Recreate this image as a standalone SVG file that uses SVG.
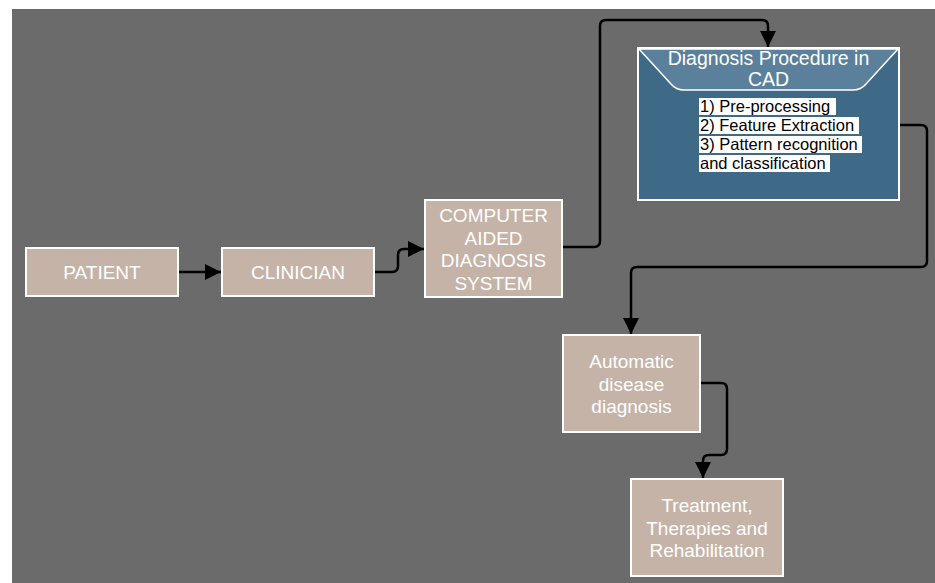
<svg xmlns="http://www.w3.org/2000/svg" width="935" height="583" viewBox="0 0 935 583">
<defs>
<style>
.node rect.box{fill:#c5b3a8;stroke:#ffffff;stroke-width:2}
.lbl{font-family:"Liberation Sans",Arial,sans-serif;font-size:19px;fill:#ffffff;text-anchor:middle}
.hdr{font-family:"Liberation Sans",Arial,sans-serif;font-size:19.5px;fill:#ffffff;text-anchor:middle}
.item{font-family:"Liberation Sans",Arial,sans-serif;font-size:16.5px;fill:#000000}
.hl{fill:#ffffff}
.conn path{fill:none;stroke:#000000;stroke-width:2.5;stroke-linejoin:round}
</style>
<marker id="arr" viewBox="0 0 10 10" refX="10" refY="5" markerWidth="6.5" markerHeight="6.5" orient="auto" markerUnits="strokeWidth">
<path d="M0,0 L10,5 L0,10 Z" fill="#000000"/>
</marker>
</defs>
<rect x="12" y="9" width="923" height="574" fill="#6b6b6b"/>

<g class="conn" id="connectors">
<path d="M178,272 L221,272" marker-end="url(#arr)"/>
<path d="M374,272 L392,272 Q398,272 398,266 L398,255 Q398,249 404,249 L424,249" marker-end="url(#arr)"/>
<path d="M562,247 L594,247 Q600,247 600,241 L600,26 Q600,20 606,20 L762,20 Q768,20 768,26 L768,47" marker-end="url(#arr)"/>
<path d="M899,125 L921,125 Q927,125 927,131 L927,261 Q927,267 921,267 L637,267 Q631,267 631,273 L631,334" marker-end="url(#arr)"/>
<path d="M700,383 L721,383 Q727,383 727,389 L727,449 Q727,455 721,455 L709,455 Q703,455 703,461 L703,478" marker-end="url(#arr)"/>
</g>

<g class="node" id="patient">
<rect class="box" x="26" y="248" width="152" height="48"/>
<text class="lbl" x="102" y="279">PATIENT</text>
</g>

<g class="node" id="clinician">
<rect class="box" x="222" y="248" width="152" height="48"/>
<text class="lbl" x="298" y="279">CLINICIAN</text>
</g>

<g class="node" id="cad-system">
<rect class="box" x="425" y="200" width="137" height="97"/>
<text class="lbl" x="493.5" y="222">COMPUTER</text>
<text class="lbl" x="493.5" y="244.5">AIDED</text>
<text class="lbl" x="493.5" y="267">DIAGNOSIS</text>
<text class="lbl" x="493.5" y="289.5">SYSTEM</text>
</g>

<g class="node" id="diagnosis-procedure">
<rect x="638" y="48" width="261" height="152" fill="#3e6a88" stroke="#ffffff" stroke-width="2"/>
<path d="M639,49 L898,49 L866,84 Q861,90 853,90 L684,90 Q676,90 671,84 Z" fill="#5a809b" stroke="#ffffff" stroke-width="1.5"/>
<text class="hdr" x="768.5" y="65">Diagnosis Procedure in</text>
<text class="hdr" x="768.5" y="86">CAD</text>
<rect class="hl" x="699" y="98" width="137" height="17"/>
<rect class="hl" x="699" y="117" width="160" height="17"/>
<rect class="hl" x="699" y="136" width="163" height="17"/>
<rect class="hl" x="699" y="155" width="131" height="17"/>
<text class="item" x="700" y="112">1) Pre-processing</text>
<text class="item" x="700" y="131">2) Feature Extraction</text>
<text class="item" x="700" y="150">3) Pattern recognition</text>
<text class="item" x="700" y="169">and classification</text>
</g>

<g class="node" id="automatic-diagnosis">
<rect class="box" x="563" y="335" width="137" height="97"/>
<text class="lbl" x="631.5" y="368">Automatic</text>
<text class="lbl" x="631.5" y="390.5">disease</text>
<text class="lbl" x="631.5" y="413">diagnosis</text>
</g>

<g class="node" id="treatment">
<rect class="box" x="631" y="479" width="152" height="97"/>
<text class="lbl" x="707" y="512">Treatment,</text>
<text class="lbl" x="707" y="534.5">Therapies and</text>
<text class="lbl" x="707" y="557">Rehabilitation</text>
</g>
</svg>
